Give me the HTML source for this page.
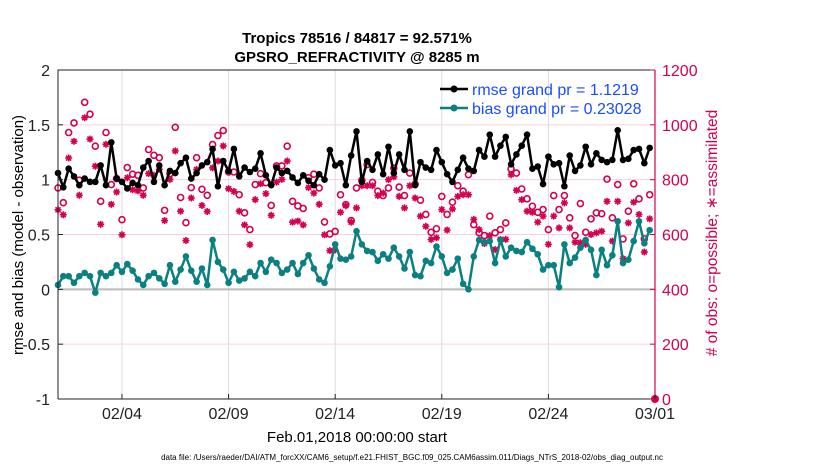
<!DOCTYPE html>
<html><head><meta charset="utf-8"><style>
body{margin:0;background:#fff;}
svg text{font-family:"Liberation Sans",sans-serif;}
</style></head><body>
<svg id="chart" width="830" height="470">
<g id="grid"></g>
<g id="marks"></g>
<g id="axes"></g>
<text x="357" y="43" text-anchor="middle" font-size="15" font-weight="bold">Tropics 78516 / 84817 = 92.571%</text>
<text x="357" y="62" text-anchor="middle" font-size="15" font-weight="bold">GPSRO_REFRACTIVITY @ 8285 m</text>
<text transform="translate(23,235) rotate(-90)" text-anchor="middle" font-size="15">rmse and bias (model - observation)</text>
<text transform="translate(717,233) rotate(-90)" text-anchor="middle" font-size="15.5" fill="#d4004f"># of obs: o=possible; ∗=assimilated</text>
<text x="357" y="442" text-anchor="middle" font-size="15">Feb.01,2018 00:00:00 start</text>
<text x="412" y="460" text-anchor="middle" font-size="8">data file: /Users/raeder/DAI/ATM_forcXX/CAM6_setup/f.e21.FHIST_BGC.f09_025.CAM6assim.011/Diags_NTrS_2018-02/obs_diag_output.nc</text>
<g>
<line x1="440" y1="89" x2="468" y2="89" stroke="#000" stroke-width="2.5"/><circle cx="454" cy="89" r="3.5" fill="#000"/>
<text x="472" y="95" font-size="16" fill="#1a4cff">rmse grand pr = 1.1219</text>
<line x1="440" y1="108" x2="468" y2="108" stroke="#0a8080" stroke-width="2.5"/><circle cx="454" cy="108" r="3.5" fill="#0a8080"/>
<text x="472" y="114" font-size="16" fill="#1a4cff">bias grand pr = 0.23028</text>
</g>
</svg>
<script>
const rmse=[1.06,0.93,1.10,1.03,0.95,1.01,0.98,0.98,1.13,0.95,1.34,1.01,0.98,0.92,0.97,0.95,1.11,1.17,0.98,1.13,0.95,1.08,1.06,1.15,1.20,1.01,1.06,1.13,1.16,1.28,0.94,1.17,1.08,1.28,1.03,1.11,1.07,1.10,1.24,1.04,0.95,1.11,1.06,1.08,1.02,0.97,1.04,0.99,0.95,1.05,1.00,1.27,1.13,
1.15,0.95,1.22,1.44,0.98,1.17,1.09,1.23,1.05,1.30,1.06,1.23,1.09,1.44,0.95,1.16,1.11,1.09,1.27,1.16,1.05,0.98,1.09,1.20,1.10,1.08,1.27,1.21,1.41,1.21,1.31,1.39,1.14,1.23,1.31,1.41,1.10,1.12,0.96,1.21,1.14,1.15,0.94,1.22,1.08,1.13,1.30,1.14,1.24,1.18,1.16,1.18,1.45,1.18,1.19,1.27,1.28,1.15,1.29];
const bias=[0.04,0.12,0.12,0.06,0.12,0.15,0.12,-0.03,0.15,0.12,0.15,0.22,0.16,0.23,0.17,0.09,0.04,0.12,0.15,0.10,0.05,0.22,0.07,0.18,0.30,0.17,0.07,0.19,0.04,0.45,0.25,0.18,0.06,0.16,0.08,0.10,0.16,0.12,0.24,0.16,0.27,0.24,0.15,0.18,0.24,0.14,0.24,0.31,0.19,0.09,0.06,0.21,0.41,
0.28,0.27,0.30,0.53,0.41,0.35,0.34,0.26,0.32,0.28,0.38,0.30,0.19,0.34,0.13,0.12,0.26,0.24,0.39,0.30,0.15,0.18,0.28,0.05,0.00,0.30,0.45,0.43,0.44,0.24,0.45,0.30,0.38,0.35,0.34,0.43,0.37,0.32,0.18,0.22,0.22,0.02,0.41,0.24,0.29,0.38,0.45,0.36,0.13,0.36,0.22,0.31,0.62,0.24,0.27,0.44,0.62,0.42,0.54];
const possible=[770,716,972,1007,798,1082,1039,922,721,972,782,804,654,844,820,816,770,910,889,880,688,822,991,735,643,771,880,765,743,928,961,979,828,828,745,679,618,782,822,789,706,850,850,922,721,704,695,807,820,770,646,602,611,
745,709,651,770,798,855,790,758,742,770,842,773,742,824,784,725,673,608,621,739,673,718,778,758,818,636,606,596,667,606,618,642,839,824,766,730,703,681,691,618,742,691,742,661,596,713,608,657,679,676,802,661,782,584,685,785,730,584,745];
const assimilated=[690,672,879,940,743,1026,948,849,637,929,710,755,599,807,763,759,743,822,816,838,651,801,905,685,578,733,837,706,684,843,868,923,767,757,685,635,563,727,785,749,670,791,801,868,645,649,635,771,751,710,599,541,544,
681,705,645,697,778,778,778,742,751,800,810,739,697,778,733,667,630,582,588,691,616,693,739,745,745,655,618,567,596,545,582,582,818,761,727,685,681,645,667,564,667,624,715,624,572,570,564,600,606,612,721,576,721,512,642,718,673,536,657];
const xTicks=["02/04","02/09","02/14","02/19","02/24","03/01"];
const xTickDays=[3,8,13,18,23,28];
const leftTicks=[2,1.5,1,0.5,0,-0.5,-1];
const rightTicks=[1200,1000,800,600,400,200,0];

const X0=58,X1=655,Y0=70,Y1=399;
const xs=d=>X0+(X1-X0)*d/28;
const ysL=v=>Y0+(2-v)*(Y1-Y0)/3;
const ysR=c=>Y1-c*(Y1-Y0)/1200;
const xi=i=>xs(i*0.25);
const NS='http://www.w3.org/2000/svg';
function mk(p,tag,at){const e=document.createElementNS(NS,tag);for(const k in at)e.setAttribute(k,at[k]);p.appendChild(e);return e;}
const G=document.getElementById('grid'),M=document.getElementById('marks'),A=document.getElementById('axes');
rightTicks.forEach(c=>{if(c>0&&c<1200){const l=mk(G,'line',{x1:X0,x2:X1,y1:ysR(c),y2:ysR(c),stroke:'#f6d0dc','stroke-width':1});

}});
xTickDays.forEach(d=>{const l=mk(G,'line',{x1:xs(d),x2:xs(d),y1:Y0,y2:Y1,stroke:'#dcdcdc','stroke-width':1});

});
const z=mk(G,'line',{x1:X0,x2:X1,y1:ysL(0),y2:ysL(0),stroke:'#bbb','stroke-width':2});


possible.forEach((c,i)=>{const e=mk(M,'circle',{cx:xi(i),cy:ysR(c),r:3,fill:'none',stroke:'#d4004f','stroke-width':1.6});

});
assimilated.forEach((c,i)=>{const x=xi(i),y=ysR(c),r=3.5,q=2.5;
const e=mk(M,'path',{d:`M${x-r},${y}H${x+r}M${x},${y-r}V${y+r}M${x-q},${y-q}L${x+q},${y+q}M${x-q},${y+q}L${x+q},${y-q}`,stroke:'#d4004f','stroke-width':1.6});

});
function series(vals,col,name){
const p=mk(M,'polyline',{points:vals.map((v,i)=>xi(i)+','+ysL(v)).join(' '),fill:'none',stroke:col,'stroke-width':2.5,'stroke-linejoin':'round'});


vals.forEach((v,i)=>{const c=mk(M,'circle',{cx:xi(i),cy:ysL(v),r:3.3,fill:col});

});}
series(bias,'#0a8080','bias');
series(rmse,'#000','rmse');
const ed=mk(M,'circle',{cx:X1,cy:Y1,r:4,fill:'#d4004f'});


const fr=mk(A,'path',{d:`M${X0},${Y1}V${Y0}H${X1}M${X0},${Y1}H${X1}`,fill:'none',stroke:'#222','stroke-width':1});


const ra=mk(A,'line',{x1:X1,x2:X1,y1:Y0,y2:Y1,stroke:'#d4004f','stroke-width':1.2});


leftTicks.forEach(v=>{mk(A,'line',{x1:X0,x2:X0+5,y1:ysL(v),y2:ysL(v),stroke:'#222'});
const t=mk(A,'text',{x:X0-8,y:ysL(v)+6,'text-anchor':'end','font-size':16,fill:'#222'});t.textContent=String(v);

});
rightTicks.forEach(c=>{mk(A,'line',{x1:X1-5,x2:X1,y1:ysR(c),y2:ysR(c),stroke:'#d4004f'});
const t=mk(A,'text',{x:X1+7,y:ysR(c)+6,'font-size':16,fill:'#d4004f'});t.textContent=String(c);

});
xTicks.forEach((s,k)=>{const x=xs(xTickDays[k]);mk(A,'line',{x1:x,x2:x,y1:Y1,y2:Y1-5,stroke:'#222'});
const t=mk(A,'text',{x:x,y:Y1+20,'text-anchor':'middle','font-size':16,fill:'#222'});t.textContent=s;

});
</script>
</body></html>
